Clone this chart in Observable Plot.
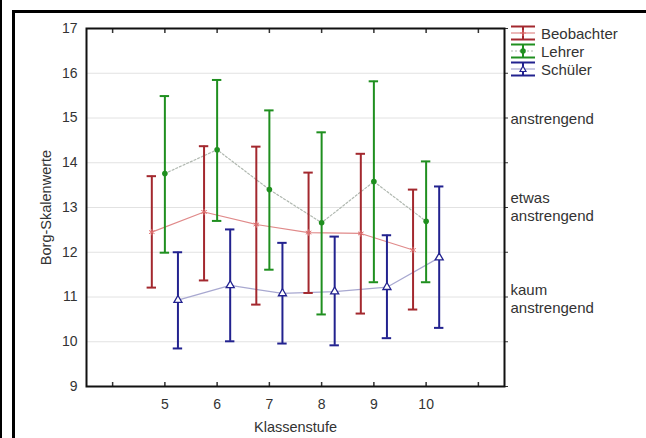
<!DOCTYPE html>
<html><head><meta charset="utf-8">
<script src="https://cdn.jsdelivr.net/npm/d3@7"></script>
<script src="https://cdn.jsdelivr.net/npm/@observablehq/plot@0.6"></script>
<style>
body{margin:0;background:#fff;}
#wrap{position:relative;width:646px;height:438px;overflow:hidden;font-family:"Liberation Sans",Arial,sans-serif;}
#b1{position:absolute;left:0;top:0;width:2px;height:438px;background:#000;}
#b2{position:absolute;left:12px;top:10px;width:700px;height:500px;border-left:3px solid #000;border-top:3px solid #000;}
#chart{position:absolute;left:0;top:0;}
#legend{position:absolute;left:510px;top:24px;font-size:15px;color:#333;}
#legend .row{display:flex;align-items:center;height:18px;}
#legend svg{margin-right:5px;}
</style></head>
<body>
<div id="wrap"><div id="b1"></div><div id="b2"></div><div id="chart"></div><div id="legend"></div></div>
<script>
const grades = [5, 6, 7, 8, 9, 10];
const seriesNames = ["Beobachter", "Lehrer", "Schüler"];
const beobMean = [12.45, 12.90, 12.62, 12.44, 12.42, 12.05];
const beobHi   = [13.70, 14.37, 14.36, 13.78, 14.20, 13.40];
const beobLo   = [11.21, 11.37, 10.83, 11.09, 10.63, 10.72];
const lehrMean = [13.76, 14.29, 13.40, 12.66, 13.58, 12.69];
const lehrHi   = [15.49, 15.85, 15.17, 14.68, 15.82, 14.03];
const lehrLo   = [11.99, 12.70, 11.61, 10.61, 11.33, 11.33];
const schMean  = [10.93, 11.26, 11.08, 11.12, 11.22, 11.88];
const schHi    = [12.00, 12.51, 12.21, 12.35, 12.38, 13.47];
const schLo    = [9.85, 10.01, 9.96, 9.92, 10.08, 10.31];
const rightLabels = [
  {y: 15, text: "anstrengend"},
  {y: 13.03, text: "etwas\nanstrengend"},
  {y: 10.98, text: "kaum\nanstrengend"}
];

const offsets = {"Beobachter": -0.25, "Lehrer": 0, "Schüler": 0.25};
const colors = {"Beobachter": "#a3282e", "Lehrer": "#1f8f1f", "Schüler": "#22228f"};
const lineColors = {"Beobachter": "#e08a8a", "Lehrer": "#b0b8b0", "Schüler": "#a8a8d0"};

function build(name, mean, hi, lo) {
  return grades.map((g, i) => ({series: name, grade: g, x: g + offsets[name], mean: mean[i], hi: hi[i], lo: lo[i]}));
}
const beob = build("Beobachter", beobMean, beobHi, beobLo);
const lehr = build("Lehrer", lehrMean, lehrHi, lehrLo);
const sch = build("Schüler", schMean, schHi, schLo);
const all = [...beob, ...lehr, ...sch];
const cap = 0.09;

const chart = Plot.plot({
  width: 646, height: 438,
  marginLeft: 86, marginRight: 142, marginTop: 28, marginBottom: 52,
  style: {fontFamily: "Liberation Sans, Arial, sans-serif", fontSize: "14px", color: "#333", background: "transparent"},
  x: {domain: [3.5, 11.5]},
  y: {domain: [9, 17]},
  marks: [
    Plot.gridY([10, 11, 12, 13, 14, 15, 16], {stroke: "#e2e2e2", strokeOpacity: 1}),
    Plot.axisY({ticks: [9,10,11,12,13,14,15,16,17], tickSize: 0, tickPadding: 9, tickFormat: d => d, fontSize: 14, label: null, fill: "#333"}),
    Plot.axisY({ticks: [], label: "Borg-Skalenwerte", labelAnchor: "center", labelArrow: "none", labelOffset: 46, fontSize: 14.5, fill: "#333"}),
    Plot.axisY({anchor: "right", ticks: [9,10,11,12,13,14,15,16,17], tickSize: 3, tickFormat: () => "", label: null}),
    Plot.axisX({ticks: grades, tickSize: 0, tickPadding: 13, tickFormat: d => d, fontSize: 14, label: null, fill: "#333"}),
    Plot.axisX({ticks: [], label: "Klassenstufe", labelAnchor: "center", labelArrow: "none", labelOffset: 45, fontSize: 14.5, fill: "#333"}),
    Plot.axisX({ticks: [4,5,6,7,8,9,10,11], tickSize: -4, tickFormat: () => "", label: null, strokeWidth: 1.5}),
    Plot.axisX({anchor: "top", ticks: [4,5,6,7,8,9,10,11], tickSize: -4, tickFormat: () => "", label: null, strokeWidth: 1.5}),
    Plot.frame({stroke: "#111", strokeWidth: 2}),
    Plot.line(beob, {x: "x", y: "mean", stroke: lineColors["Beobachter"], strokeWidth: 1.2}),
    Plot.line(lehr, {x: "x", y: "mean", stroke: lineColors["Lehrer"], strokeWidth: 1.2, strokeDasharray: "2,2"}),
    Plot.line(sch, {x: "x", y: "mean", stroke: lineColors["Schüler"], strokeWidth: 1.2}),
    Plot.ruleX(all, {x: "x", y1: "lo", y2: "hi", stroke: d => colors[d.series], strokeWidth: 2}),
    Plot.ruleY(all, {y: "hi", x1: d => d.x - cap, x2: d => d.x + cap, stroke: d => colors[d.series], strokeWidth: 2}),
    Plot.ruleY(all, {y: "lo", x1: d => d.x - cap, x2: d => d.x + cap, stroke: d => colors[d.series], strokeWidth: 2}),
    Plot.dot(beob, {x: "x", y: "mean", symbol: "asterisk", r: 3, stroke: "#e07070", strokeWidth: 1}),
    Plot.dot(lehr, {x: "x", y: "mean", symbol: "circle", r: 2.8, fill: colors["Lehrer"], stroke: "none"}),
    Plot.dot(sch, {x: "x", y: "mean", symbol: "triangle", r: 3, fill: "#fff", stroke: colors["Schüler"], strokeWidth: 1.3}),
    Plot.text(rightLabels, {y: "y", text: "text", frameAnchor: "right", dx: 6, textAnchor: "start", lineAnchor: "middle", lineHeight: 1.2, fontSize: 15, fill: "#333"})
  ]
});
document.getElementById("chart").appendChild(chart);

// legend
const legend = document.getElementById("legend");
const markers = {
  "Beobachter": `<path d="M13,5 v6 M10,8 h6" stroke="#e07070" stroke-width="1"/>`,
  "Lehrer": `<circle cx="13" cy="8" r="2.8" fill="${colors["Lehrer"]}"/>`,
  "Schüler": `<path d="M13,5 L16,10.5 L10,10.5 Z" fill="#fff" stroke="${colors["Schüler"]}" stroke-width="1.2"/>`
};
seriesNames.forEach(name => {
  const c = colors[name];
  const row = document.createElement("div");
  row.className = "row";
  row.innerHTML = `<svg width="26" height="16">
    <line x1="1" x2="25" y1="1.5" y2="1.5" stroke="${c}" stroke-width="2"/>
    <line x1="1" x2="25" y1="14.5" y2="14.5" stroke="${c}" stroke-width="2"/>
    <line x1="1" x2="25" y1="8" y2="8" stroke="${lineColors[name]}" stroke-width="1.2" ${name === "Lehrer" ? 'stroke-dasharray="2,2"' : ''}/>
    <line x1="13" x2="13" y1="1.5" y2="14.5" stroke="${c}" stroke-width="2"/>
    ${markers[name]}
  </svg><span>${name}</span>`;
  legend.appendChild(row);
});
</script>
</body></html>
